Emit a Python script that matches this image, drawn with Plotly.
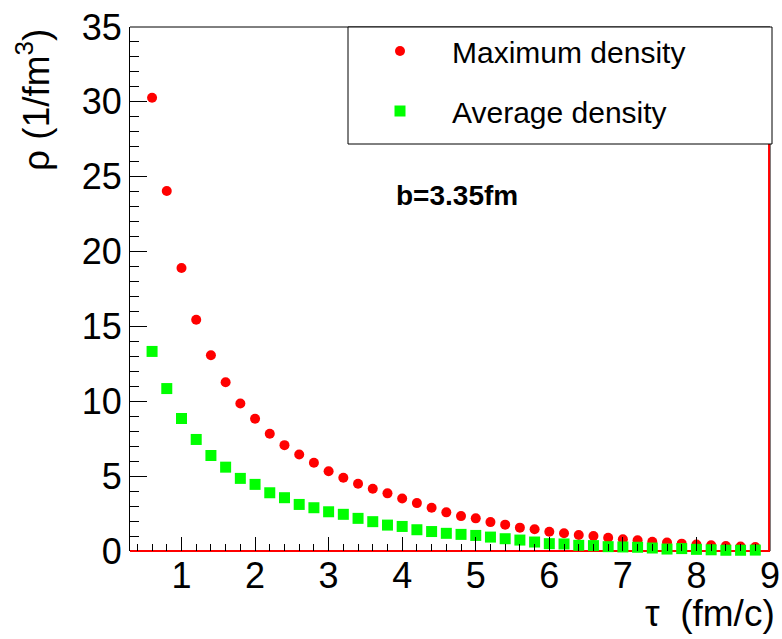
import plotly.graph_objects as go

# Data
tau = [0.6, 0.8, 1.0, 1.2, 1.4, 1.6, 1.8, 2.0, 2.2, 2.4, 2.6, 2.8, 3.0, 3.2,
       3.4, 3.6, 3.8, 4.0, 4.2, 4.4, 4.6, 4.8, 5.0, 5.2, 5.4, 5.6, 5.8, 6.0,
       6.2, 6.4, 6.6, 6.8, 7.0, 7.2, 7.4, 7.6, 7.8, 8.0, 8.2, 8.4, 8.6, 8.8]

rho_max = [30.27, 24.05, 18.9, 15.45, 13.07, 11.27, 9.85, 8.83, 7.83, 7.07,
           6.45, 5.89, 5.33, 4.89, 4.49, 4.16, 3.85, 3.51, 3.2, 2.89, 2.58,
           2.33, 2.18, 1.93, 1.76, 1.56, 1.45, 1.29, 1.18, 1.07, 1.0, 0.89,
           0.78, 0.71, 0.62, 0.56, 0.49, 0.43, 0.38, 0.33, 0.3, 0.27]

rho_avg = [13.33, 10.85, 8.85, 7.45, 6.38, 5.6, 4.85, 4.45, 3.89, 3.56, 3.11,
           2.89, 2.62, 2.45, 2.18, 1.96, 1.73, 1.64, 1.42, 1.3, 1.18, 1.11,
           1.04, 0.93, 0.82, 0.73, 0.6, 0.49, 0.47, 0.38, 0.36, 0.29, 0.27,
           0.25, 0.2, 0.13, 0.16, 0.11, 0.08, 0.05, 0.05, 0.06]

series_names = ["Maximum density", "Average density"]
x_title = "\u03c4\u00a0\u00a0(fm/c)"
y_title = "\u03c1 (1/fm<sup>3</sup>)"
note_text = "<b>b=3.35fm</b>"

FONT = "Liberation Sans, Arial, Helvetica, sans-serif"

fig = go.Figure()
fig.add_trace(go.Scatter(
    x=tau, y=rho_max, mode="markers", name=series_names[0],
    marker=dict(symbol="circle", size=10, color="#ff0000", line=dict(width=0)),
    cliponaxis=False, legendgroup="a"))
fig.add_trace(go.Scatter(
    x=tau, y=rho_avg, mode="markers", name=series_names[1],
    marker=dict(symbol="square", size=11, color="#00ff00", line=dict(width=0)),
    cliponaxis=False, legendgroup="b"))

W, H = 782, 639
L, R, T, B = 130, 12, 27, 88
pw = W - L - R
ph = H - T - B


def px(xp):
    return (xp - L) / pw


def py(yp):
    return (H - B - yp) / ph


fig.update_layout(
    width=W, height=H,
    margin=dict(l=L, r=R, t=T, b=B, pad=0, autoexpand=False),
    plot_bgcolor="white", paper_bgcolor="white",
    font=dict(family=FONT, color="black"),
    showlegend=True,
    legend=dict(
        x=px(348), y=py(25), xanchor="left", yanchor="top",
        bgcolor="rgba(0,0,0,0)", borderwidth=0,
        font=dict(family=FONT, size=30, color="black"),
        tracegroupgap=18, itemwidth=94,
    ),
    xaxis=dict(
        range=[0.3, 9], showgrid=False, zeroline=False, showline=False,
        automargin=False,
        ticks="inside", ticklen=14, tickwidth=1, tickcolor="black",
        tick0=0, dtick=1,
        minor=dict(dtick=0.2, tick0=0, ticks="inside", ticklen=7,
                   tickwidth=1, tickcolor="black", showgrid=False),
        tickfont=dict(family=FONT, size=36, color="black"),
    ),
    yaxis=dict(
        range=[0, 35], showgrid=False, zeroline=False, showline=True,
        automargin=False,
        linecolor="black", linewidth=1, mirror=False,
        ticks="inside", ticklen=17, tickwidth=1, tickcolor="black",
        tick0=0, dtick=5,
        minor=dict(dtick=1, tick0=0, ticks="inside", ticklen=9,
                   tickwidth=1, tickcolor="black", showgrid=False),
        tickfont=dict(family=FONT, size=36, color="black"),
    ),
    shapes=[
        dict(type="line", xref="paper", yref="paper", x0=0, x1=1, y0=1, y1=1,
             line=dict(color="black", width=1), layer="above"),
        dict(type="line", xref="paper", yref="paper", x0=1, x1=1, y0=0, y1=1,
             line=dict(color="black", width=1), layer="below"),
        dict(type="line", xref="paper", yref="paper", x0=0, x1=1, y0=0, y1=0,
             line=dict(color="black", width=1), layer="below"),
        dict(type="path", xref="paper", yref="paper",
             path="M 0,0 L 0.9985,0 L 0.9985,1",
             line=dict(color="#ff0000", width=2), layer="below"),
        dict(type="rect", xref="paper", yref="paper",
             x0=px(348), x1=px(772), y0=py(144), y1=1,
             fillcolor="white", line=dict(color="black", width=1), layer="above"),
    ],
    annotations=[
        dict(text=note_text, xref="paper", yref="paper", x=px(394), y=py(195),
             xanchor="left", yanchor="middle", showarrow=False,
             font=dict(family=FONT, size=28, color="black")),
        dict(text=x_title, xref="paper", yref="paper", x=px(777), y=py(613),
             xanchor="right", yanchor="middle", showarrow=False,
             font=dict(family=FONT, size=37, color="black")),
        dict(text=y_title, xref="paper", yref="paper", x=px(34), y=py(100),
             xanchor="center", yanchor="middle", showarrow=False, textangle=-90,
             font=dict(family=FONT, size=37, color="black")),
    ],
)

fig.write_html("out.html")
